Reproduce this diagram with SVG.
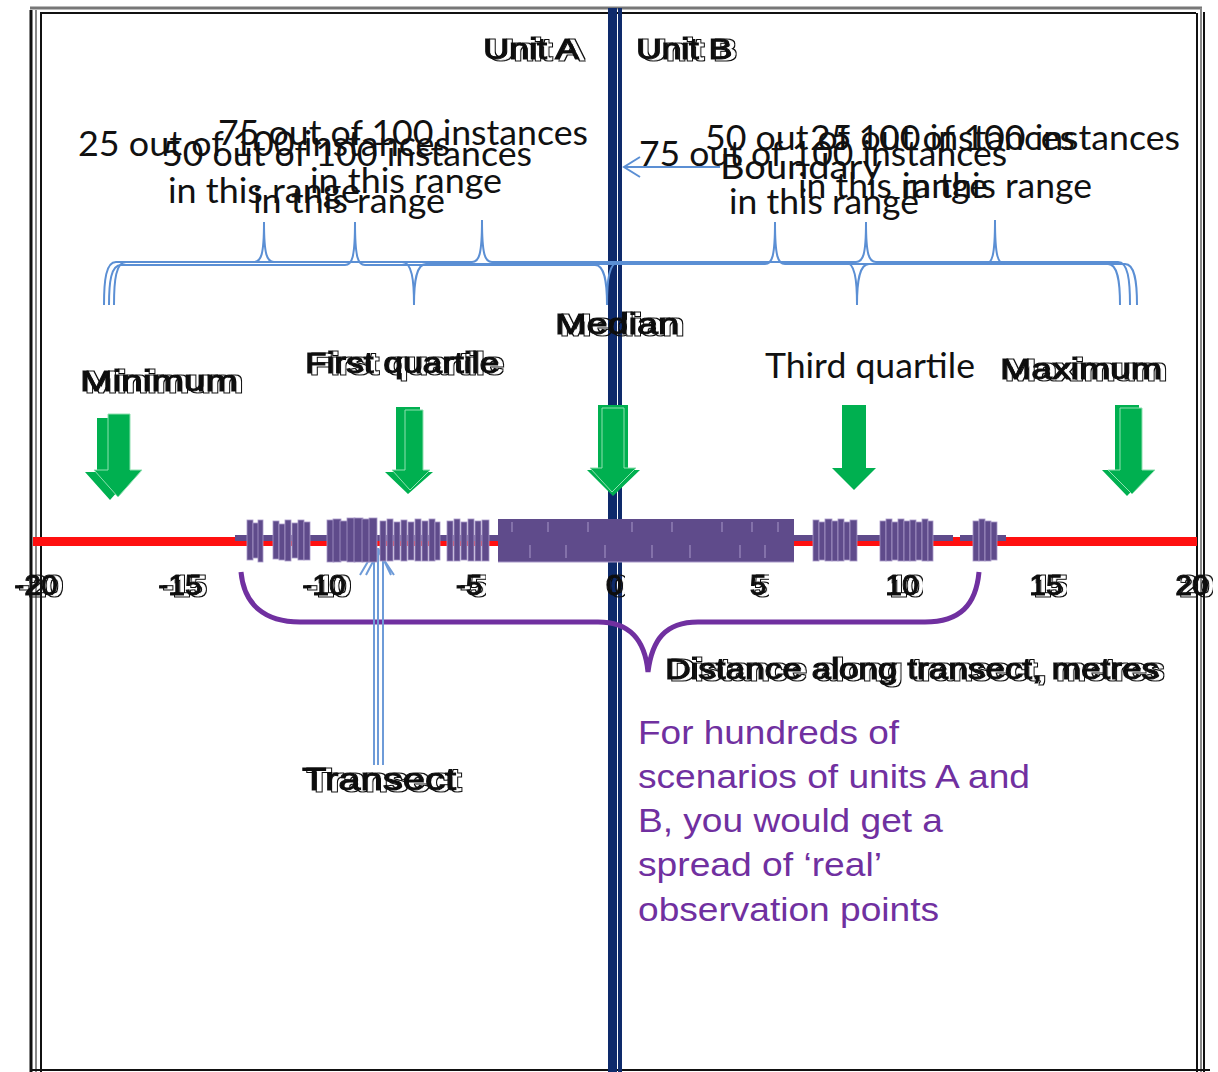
<svg xmlns="http://www.w3.org/2000/svg" width="1218" height="1072" viewBox="0 0 1218 1072">
<defs>
<filter id="dbl" x="-5%" y="-25%" width="115%" height="150%">
<feMorphology in="SourceAlpha" operator="dilate" radius="1" result="d"/>
<feComposite in="d" in2="SourceAlpha" operator="out" result="o"/>
<feOffset in="o" dx="5" dy="1" result="oo"/>
<feFlood flood-color="#111"/>
<feComposite in2="oo" operator="in" result="oc"/>
<feMerge><feMergeNode in="oc"/><feMergeNode in="SourceGraphic"/></feMerge>
</filter>
</defs>
<style>
.cal{font-family:Lato,"Open Sans",sans-serif;font-size:34px;fill:#111}
.ar{font-family:"Liberation Sans",Arial,sans-serif;fill:#111;stroke:#111;stroke-width:1;filter:url(#dbl)}
.tick{font-size:30px;text-anchor:middle}
.brace{fill:none;stroke:#5b8fd4;stroke-width:2}
.grn{fill:#00b050}
.grn2{fill:#00b050;stroke:#8fe0b0;stroke-width:1}
.bar{fill:#5f4b8b;stroke:#a898c8;stroke-width:0.8}
.purp{font-family:"Liberation Sans",Arial,sans-serif;font-size:34px;fill:#7030a0}
</style>
<rect width="1218" height="1072" fill="#fff"/>
<g id="frame" fill="none">
<line x1="30" y1="8" x2="1202" y2="8" stroke="#777" stroke-width="3"/>
<line x1="40" y1="13" x2="1196" y2="13" stroke="#111" stroke-width="2"/>
<line x1="31" y1="10" x2="31" y2="1072" stroke="#111" stroke-width="3"/>
<line x1="36" y1="10" x2="36" y2="1072" stroke="#888" stroke-width="2"/>
<line x1="41" y1="13" x2="41" y2="1072" stroke="#111" stroke-width="2"/>
<line x1="1197" y1="13" x2="1197" y2="1072" stroke="#111" stroke-width="2"/>
<line x1="1201" y1="8" x2="1201" y2="1072" stroke="#888" stroke-width="2"/>
<line x1="1204" y1="12" x2="1204" y2="1072" stroke="#111" stroke-width="2"/>
<line x1="30" y1="1070" x2="1210" y2="1070" stroke="#111" stroke-width="2"/>
</g>
<g id="boundary-line">
<rect x="608" y="8" width="9" height="1064" fill="#0e2a6b"/>
<rect x="618" y="8" width="4" height="1064" fill="#0e2a6b"/>
</g>
<g id="unit-labels">
<text class="ar" x="483" y="59" font-size="30" textLength="96" lengthAdjust="spacingAndGlyphs">Unit A</text>
<text class="ar" x="636" y="59" font-size="30" textLength="96" lengthAdjust="spacingAndGlyphs">Unit B</text>
</g>
<g id="range-labels-left">
<text class="cal" x="78" y="156" textLength="372" lengthAdjust="spacingAndGlyphs">25 out of 100 instances</text>
<text class="cal" x="168" y="203" textLength="192" lengthAdjust="spacingAndGlyphs">in this range</text>
<text class="cal" x="218" y="145" textLength="370" lengthAdjust="spacingAndGlyphs">75 out of 100 instances</text>
<text class="cal" x="310" y="193" textLength="192" lengthAdjust="spacingAndGlyphs">in this range</text>
<text class="cal" x="162" y="166" textLength="370" lengthAdjust="spacingAndGlyphs">50 out of 100 instances</text>
<text class="cal" x="253" y="213" textLength="192" lengthAdjust="spacingAndGlyphs">in this range</text>
</g>
<g id="range-labels-right">
<text class="cal" x="639" y="166" textLength="368" lengthAdjust="spacingAndGlyphs">75 out of 100 instances</text>
<text class="cal" x="729" y="214" textLength="190" lengthAdjust="spacingAndGlyphs">in this range</text>
<text class="cal" x="705" y="150" textLength="370" lengthAdjust="spacingAndGlyphs">50 out of 100 instances</text>
<text class="cal" x="798" y="198" textLength="190" lengthAdjust="spacingAndGlyphs">in this range</text>
<text class="cal" x="810" y="150" textLength="370" lengthAdjust="spacingAndGlyphs">25 out of 100 instances</text>
<text class="cal" x="902" y="198" textLength="190" lengthAdjust="spacingAndGlyphs">in this range</text>
</g>
<g id="boundary-label">
<text class="cal" x="720" y="179" textLength="162" lengthAdjust="spacingAndGlyphs">Boundary</text>
</g>
<g id="connectors" fill="none">
<path d="M720,167 L624,167 M640,157 L624,167 L640,177" stroke="#5b8fd4" stroke-width="2"/>
<path class="brace" d="M104,305 C104,280 106,262 116,262 L254,262 C261,262 264,255 264,222 C264,255 267,262 274,262 L402,262 C412,262 414,280 414,305"/>
<path class="brace" d="M109,305 C109,282 111,265 121,265 L345,265 C352,265 355,258 355,222 C355,258 358,265 365,265 L595,265 C605,265 607,283 607,305"/>
<path class="brace" d="M114,305 C114,280 116,262 126,262 L472,262 C479,262 482,255 482,220 C482,255 485,262 492,262 L845,262 C855,262 857,280 857,305"/>
<path class="brace" d="M414,305 C414,282 416,264 426,264 L765,264 C772,264 775,257 775,222 C775,257 778,264 785,264 L1108,264 C1118,264 1120,282 1120,305"/>
<path class="brace" d="M607,305 C607,280 609,262 619,262 L856,262 C863,262 866,255 866,222 C866,255 869,262 876,262 L1118,262 C1128,262 1130,280 1130,305"/>
<path class="brace" d="M857,305 C857,282 859,264 869,264 L985,264 C992,264 995,257 995,220 C995,257 998,264 1005,264 L1125,264 C1135,264 1137,282 1137,305"/>
<path d="M241,572 C244,605 265,622 300,622 L598,622 C630,622 645,640 648,672 C652,640 665,622 698,622 L925,622 C960,622 976,605 979,572" fill="none" stroke="#7030a0" stroke-width="5"/>
<g stroke="#6e9bd8" stroke-width="2">
<line x1="374" y1="765" x2="374" y2="550"/>
<line x1="378" y1="765" x2="378" y2="548"/>
<line x1="383" y1="765" x2="383" y2="550"/>
<path d="M360,575 L376,548 L394,575 M366,575 L379,550 L391,575"/>
</g>
</g>
<g id="stat-labels">
<text class="ar" x="80" y="391" font-size="29" textLength="158" lengthAdjust="spacingAndGlyphs">Minimum</text>
<text class="ar" x="305" y="373" font-size="29" textLength="194" lengthAdjust="spacingAndGlyphs">First quartile</text>
<text class="ar" x="555" y="334" font-size="29" textLength="124" lengthAdjust="spacingAndGlyphs">Median</text>
<text class="cal" x="765" y="378" textLength="210" lengthAdjust="spacingAndGlyphs">Third quartile</text>
<text class="ar" x="1000" y="379" font-size="29" textLength="162" lengthAdjust="spacingAndGlyphs">Maximum</text>
</g>
<g id="arrows">
<polygon class="grn" points="97,418 123,418 123,472 135,472 110,500 85,472 97,472"/>
<polygon class="grn2" points="108,414 130,414 130,470 142,470 118,497 94,470 108,470"/>
<polygon class="grn" points="396,407 420,407 420,472 433,472 408,494 385,472 396,472"/>
<polygon class="grn2" points="405,410 423,410 423,470 430,470 410,490 392,470 405,470"/>
<polygon class="grn" points="598,405 628,405 628,470 640,470 613,496 587,470 598,470"/>
<polygon class="grn2" points="602,408 624,408 624,468 636,468 612,492 590,468 602,468"/>
<polygon class="grn" points="842,405 866,405 866,468 876,468 854,490 832,468 842,468"/>
<polygon class="grn" points="1115,405 1139,405 1139,470 1152,470 1127,496 1102,470 1115,470"/>
<polygon class="grn2" points="1120,408 1142,408 1142,470 1155,470 1132,494 1108,470 1120,470"/>
</g>
<g id="axis">
<rect x="33" y="537" width="1164" height="9" fill="#ff1010"/>
<rect x="235" y="535" width="718" height="6" fill="#5f4b8b"/>
<rect x="960" y="535" width="46" height="6" fill="#5f4b8b"/>
</g>
<g id="observations">
<rect class="bar" x="247" y="520" width="6" height="40"/><rect class="bar" x="253" y="523" width="6" height="35"/><rect class="bar" x="258" y="520" width="5" height="42"/>
<rect class="bar" x="273" y="521" width="6" height="38"/><rect class="bar" x="279" y="524" width="6" height="36"/><rect class="bar" x="285" y="520" width="6" height="41"/><rect class="bar" x="292" y="523" width="6" height="35"/><rect class="bar" x="298" y="520" width="6" height="40"/><rect class="bar" x="304" y="522" width="6" height="38"/>
<rect class="bar" x="327" y="520" width="7" height="42"/><rect class="bar" x="333" y="519" width="8" height="43"/><rect class="bar" x="340" y="521" width="8" height="40"/><rect class="bar" x="347" y="518" width="8" height="44"/><rect class="bar" x="354" y="518" width="9" height="44"/><rect class="bar" x="362" y="519" width="8" height="43"/><rect class="bar" x="369" y="518" width="8" height="44"/>
<rect class="bar" x="380" y="521" width="6" height="40"/><rect class="bar" x="387" y="519" width="6" height="42"/><rect class="bar" x="394" y="522" width="6" height="38"/><rect class="bar" x="401" y="520" width="6" height="41"/><rect class="bar" x="408" y="522" width="6" height="38"/><rect class="bar" x="415" y="519" width="6" height="42"/><rect class="bar" x="422" y="521" width="6" height="40"/><rect class="bar" x="429" y="519" width="6" height="42"/><rect class="bar" x="435" y="522" width="5" height="38"/>
<rect class="bar" x="447" y="521" width="6" height="40"/><rect class="bar" x="454" y="519" width="6" height="42"/><rect class="bar" x="461" y="522" width="6" height="38"/><rect class="bar" x="468" y="519" width="6" height="42"/><rect class="bar" x="475" y="521" width="6" height="40"/><rect class="bar" x="482" y="520" width="7" height="41"/>
<rect x="498" y="519" width="296" height="43" fill="#5f4b8b"/>
<g stroke="#a898c8" stroke-width="1">
<line x1="512" y1="522" x2="512" y2="532"/><line x1="530" y1="545" x2="530" y2="558"/><line x1="548" y1="522" x2="548" y2="532"/><line x1="566" y1="545" x2="566" y2="558"/><line x1="588" y1="522" x2="588" y2="532"/><line x1="605" y1="545" x2="605" y2="558"/><line x1="632" y1="522" x2="632" y2="532"/><line x1="652" y1="545" x2="652" y2="558"/><line x1="672" y1="522" x2="672" y2="532"/><line x1="690" y1="545" x2="690" y2="558"/><line x1="722" y1="522" x2="722" y2="532"/><line x1="740" y1="545" x2="740" y2="558"/><line x1="752" y1="522" x2="752" y2="532"/><line x1="765" y1="545" x2="765" y2="558"/><line x1="778" y1="522" x2="778" y2="532"/>
<line x1="498" y1="562" x2="794" y2="562"/>
</g>
<rect class="bar" x="813" y="520" width="6" height="41"/><rect class="bar" x="819" y="522" width="6" height="38"/><rect class="bar" x="825" y="519" width="7" height="42"/><rect class="bar" x="832" y="521" width="6" height="40"/><rect class="bar" x="838" y="519" width="6" height="42"/><rect class="bar" x="844" y="522" width="6" height="38"/><rect class="bar" x="850" y="520" width="7" height="41"/>
<rect class="bar" x="880" y="521" width="6" height="40"/><rect class="bar" x="886" y="519" width="6" height="42"/><rect class="bar" x="892" y="522" width="6" height="38"/><rect class="bar" x="898" y="519" width="6" height="42"/><rect class="bar" x="904" y="521" width="6" height="40"/><rect class="bar" x="910" y="520" width="6" height="41"/><rect class="bar" x="916" y="522" width="6" height="38"/><rect class="bar" x="922" y="519" width="6" height="42"/><rect class="bar" x="928" y="521" width="5" height="40"/>
<rect class="bar" x="973" y="521" width="6" height="40"/><rect class="bar" x="979" y="519" width="6" height="42"/><rect class="bar" x="985" y="521" width="6" height="40"/><rect class="bar" x="991" y="522" width="6" height="38"/>
</g>
<g id="ticks">
<text class="ar tick" x="36" y="595">-20</text>
<text class="ar tick" x="180" y="595">-15</text>
<text class="ar tick" x="324" y="595">-10</text>
<text class="ar tick" x="469" y="595">-5</text>
<text class="ar tick" x="614" y="595">0</text>
<text class="ar tick" x="758" y="595">5</text>
<text class="ar tick" x="902" y="595">10</text>
<text class="ar tick" x="1046" y="595">15</text>
<text class="ar tick" x="1192" y="595">20</text>
</g>
<g id="axis-title">
<text class="ar" x="665" y="679" font-size="30" textLength="494" lengthAdjust="spacingAndGlyphs">Distance along transect, metres</text>
</g>
<g id="transect-label">
<text class="ar" x="302" y="790" font-size="32" textLength="154" lengthAdjust="spacingAndGlyphs">Transect</text>
</g>
<g id="note">
<text class="purp" x="638" y="744" textLength="261" lengthAdjust="spacingAndGlyphs">For hundreds of</text>
<text class="purp" x="638" y="788" textLength="392" lengthAdjust="spacingAndGlyphs">scenarios of units A and</text>
<text class="purp" x="638" y="832" textLength="305" lengthAdjust="spacingAndGlyphs">B, you would get a</text>
<text class="purp" x="638" y="876" textLength="244" lengthAdjust="spacingAndGlyphs">spread of ‘real’</text>
<text class="purp" x="638" y="921" textLength="301" lengthAdjust="spacingAndGlyphs">observation points</text>
</g>
</svg>
